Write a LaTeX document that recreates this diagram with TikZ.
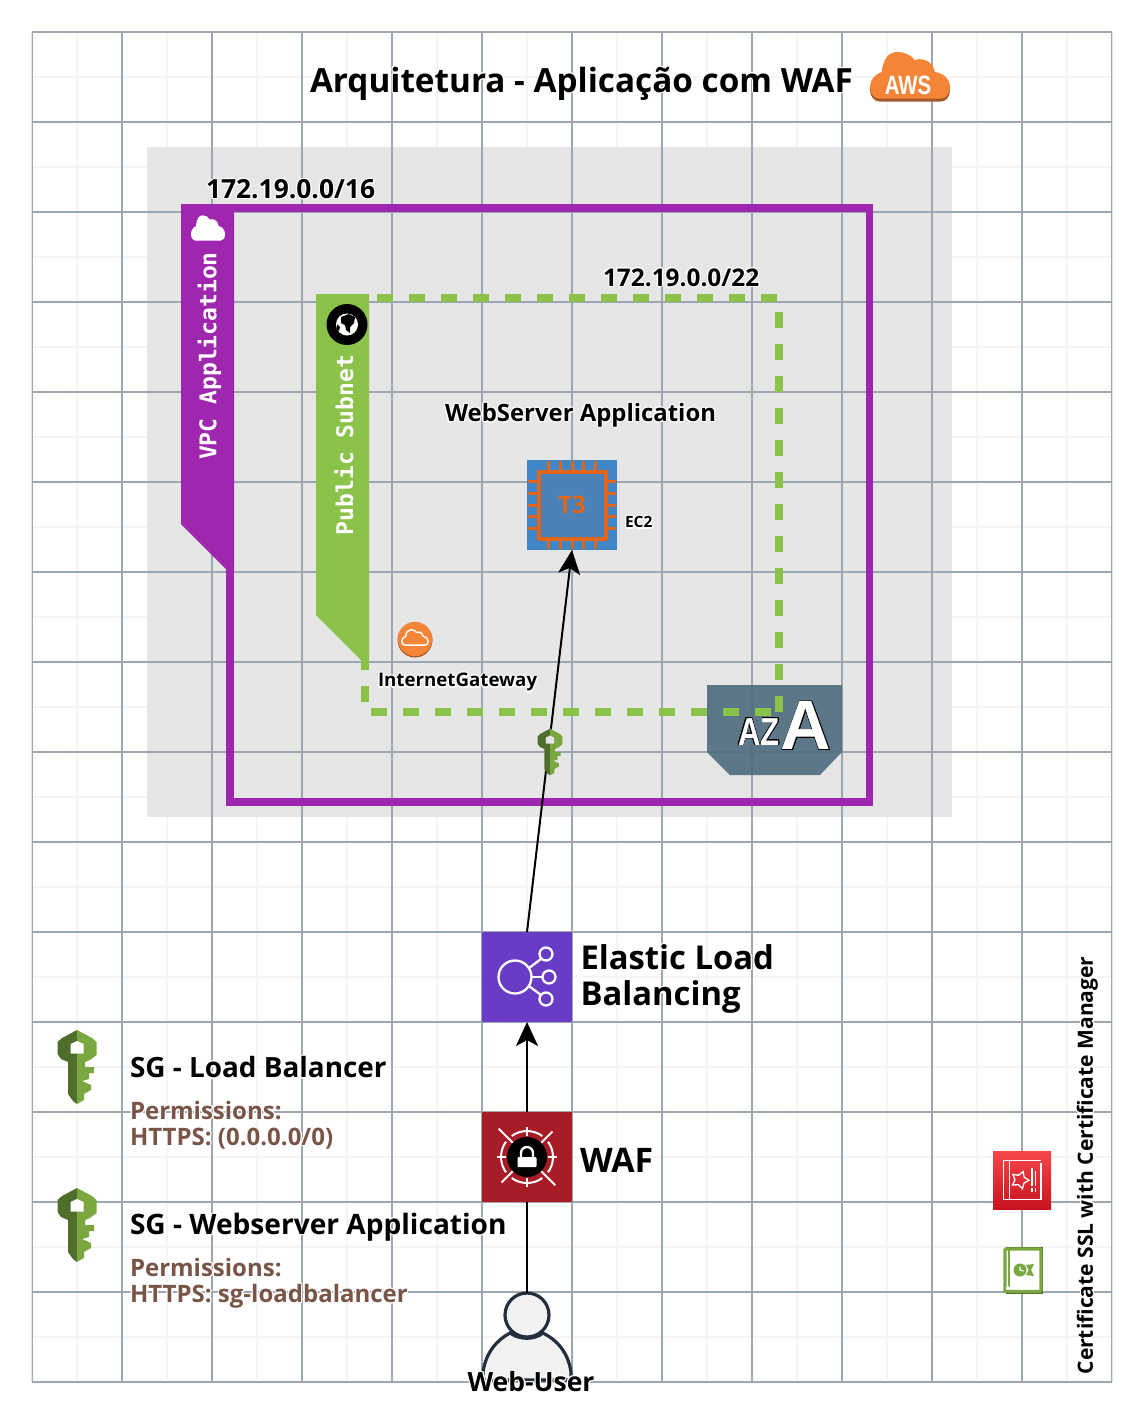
\documentclass[tikz,border=0pt]{standalone}
\usepackage{fontspec}
\setmainfont{Open Sans}
\setmonofont{DejaVu Sans Mono}
\newfontfamily\awsfont{Liberation Sans}
\usepackage[copies]{contour}
\contourlength{1.1pt}
\usetikzlibrary{arrows.meta,shapes.geometric}

\definecolor{gridmajor}{HTML}{9EA6B1}
\definecolor{gridminor}{HTML}{F5F5F6}
\definecolor{panelgray}{HTML}{E6E6E6}
\definecolor{vpcpurple}{HTML}{9F26AE}
\definecolor{subnetgreen}{HTML}{8BC34A}
\definecolor{azblue}{HTML}{4E6D7E}
\definecolor{ec2blue}{HTML}{3F86C6}
\definecolor{ec2inner}{HTML}{4A82B8}
\definecolor{ec2orange}{HTML}{E0661B}
\definecolor{elbpurple}{HTML}{693CC5}
\definecolor{wafred}{HTML}{A81C27}
\definecolor{awsorange}{HTML}{F58536}
\definecolor{awsshadow}{HTML}{A35A2B}
\definecolor{keydark}{HTML}{4F6E2C}
\definecolor{keylight}{HTML}{7AA73F}
\definecolor{permbrown}{HTML}{795548}
\definecolor{userdark}{HTML}{232F3E}
\definecolor{acmtop}{HTML}{F54749}
\definecolor{acmbottom}{HTML}{C7131F}

\newcommand{\halo}[1]{\contour{white}{#1}}

\tikzset{
    x=1pt, y=-1pt,
    sized/.style={font=\fontsize{#1}{#1}\selectfont\bfseries},
    label/.style={inner sep=0pt, outer sep=0pt},
    iconbox/.style={minimum size=90pt, inner sep=0pt, outer sep=0pt},
    ribbontext/.style={rotate=90, text=white, inner sep=0pt,
        font=\fontsize{23}{23}\selectfont\ttfamily\bfseries},
    subnetdash/.style={draw=subnetgreen, line width=8pt, dash pattern=on 16pt off 16pt},
    conn/.style={draw=black, line width=2pt},
    connarrow/.style={conn, -{Stealth[length=24pt,width=22pt,inset=6pt]}},
    pics/cloudicon/.style={code={
        \path[pic actions] (-30,23.2) .. controls (-36,23.2) and (-40,17.5) .. (-40,11.5)
            .. controls (-40,4.5) and (-35,-1.5) .. (-28.3,-3.5)
            .. controls (-27,-15.5) and (-22,-23.5) .. (-13,-23.5)
            .. controls (-5,-23.5) and (1,-20.5) .. (5,-15.2)
            .. controls (8,-17.5) and (22,-17.5) .. (25,-3.5)
            .. controls (33,-2.5) and (40,3.5) .. (40,11.5)
            .. controls (40,18.5) and (36,23.2) .. (30,23.2) -- cycle;
    }},
    pics/sgkey/.style={code={
        \fill[keydark] (-19.5,-22) -- (-19.5,-25) -- (-15,-29) -- (0,-37) -- (0,37) -- (-4,34) -- (-9,27)
            -- (-9,-5) -- (-16,-8) -- (-19.5,-13) -- cycle;
        \fill[keylight] (0,-37) -- (15,-29) -- (19.5,-25) -- (19.5,-12) -- (13,-7) -- (8,-5)
            -- (8,0) -- (17,0) -- (17,6) -- (12,6) -- (12,12) -- (5,14) -- (14,18)
            -- (14,23) -- (7,27) -- (7,33) -- (0,37) -- cycle;
        \fill[#1] (-6.5,-23) -- (0,-26) -- (6.5,-23) -- (6.5,-13.5) -- (-6.5,-13.5) -- cycle;
    }}
}

\begin{document}
\begin{tikzpicture}

    \useasboundingbox (0,0) rectangle (1144,1414);
    \fill[white] (0,0) rectangle (1144,1414);

    %minor grid:
    \foreach \k in {0,...,11} {
        \draw[gridminor, line width=1.8pt] ({77+90*\k},32) -- ({77+90*\k},1382);
    }
    \foreach \k in {0,...,14} {
        \draw[gridminor, line width=1.8pt] (32,{77+90*\k}) -- (1112,{77+90*\k});
    }

    %panel behind the vpc:
    \fill[panelgray] (147,147) rectangle (952,817);

    %major grid:
    \begin{scope}
        \clip (31.6,31.6) rectangle (1112.4,1382.4);
        \foreach \k in {0,...,12} {
            \draw[gridmajor, line width=1.7pt] ({32+90*\k},32) -- ({32+90*\k},1382);
        }
        \foreach \k in {0,...,15} {
            \draw[gridmajor, line width=1.7pt] (32,{32+90*\k}) -- (1112,{32+90*\k});
        }
    \end{scope}

    %availability zone:
    \fill[azblue, opacity=.9] (707,685) -- (842,685) -- (842,752) -- (820,775) -- (730,775) -- (707,752) -- cycle;
    \node (azsmall) [label, font=\fontsize{39}{39}\selectfont\awsfont\bfseries, text=white] at (759,732)
        {\contourlength{.6pt}\contour{black}{\scalebox{.8}[1]{AZ}}};
    \node (azbig) [label, font=\fontsize{70}{70}\selectfont\awsfont\bfseries, text=white] at (806,726)
        {\contourlength{.6pt}\contour{black}{A}};

    %subnet frame, two runs because the dashes restart at the corner:
    \draw[subnetdash, dash phase=20pt] (365,298) -- (779,298) -- (779,712);
    \draw[subnetdash, dash phase=24pt] (779,712) -- (365,712) -- (365,298);
    \fill[subnetgreen] (316,294) -- (369,294) -- (369,669) -- (361,669) -- (361,660) -- (316,615) -- cycle;
    \node (subnetname) [ribbontext] at (344,445) {Public Subnet};

    %globe:
    \node (globe) [circle, fill=black, minimum size=41pt, inner sep=0pt] at (347,324.5) {};
    \fill[white] (globe.center) circle (11);
    \fill[black] (341,317) -- (349,314) -- (355,317) -- (354,323) -- (350,327) -- (350,333) -- (346,330) -- (345,325) -- (341,323) -- cycle;
    \fill[black] (337,324) -- (340,327) -- (339,331) -- (337,329) -- cycle;

    %vpc frame:
    \draw[vpcpurple, line width=7.5pt] (230,208) rectangle (869.5,802);
    \fill[vpcpurple] (181,204.2) -- (234,204.2) -- (234,572) -- (229,572) -- (181,524) -- cycle;
    \node (vpcname) [ribbontext] at (209.5,356) {VPC Application};
    \pic[fill=white, xscale=.425, yscale=.54] (vpccloud) at (208,228) {cloudicon};

    %ec2:
    \node (ec2) [iconbox, fill=ec2blue] at (572,505) {};
    \foreach \k in {-2,...,2} {
        \draw[ec2orange, line width=3pt] ({572+11.6*\k},461) -- ({572+11.6*\k},549);
        \draw[ec2orange, line width=3pt] (528,{505+11.6*\k}) -- (616,{505+11.6*\k});
    }
    \node (ec2chip) [draw=ec2orange, line width=4pt, fill=ec2inner, minimum size=67pt, inner sep=0pt, text=ec2orange, sized=24] at (ec2.center) {T3};

    %elb:
    \node (elb) [iconbox, fill=elbpurple] at (527,977) {};
    \begin{scope}[shift={(elb.center)}, white, line width=2.3pt]
        \draw (-12,0) circle (16.5);
        \draw (19,-23) circle (6.5);
        \draw (22,0) circle (6.5);
        \draw (19,22) circle (6.5);
        \draw (2,-9) -- (14,-18);
        \draw (4,0) -- (15.5,0);
        \draw (2,9) -- (14,18);
    \end{scope}

    %waf:
    \node (waf) [iconbox, fill=wafred] at (527,1157) {};
    \begin{scope}[shift={(waf.center)}, white, line width=2pt]
        \foreach \k in {0,90,180,270} {
            \draw ({\k-36}:26) arc ({\k-36}:{\k+36}:26);
            \draw (\k:21) -- (\k:30);
        }
        \draw (45:20) -- (45:40);
        \draw (225:20) -- (225:40);
        \draw (135:20) -- (135:36);
        \draw (315:20) -- (315:36);
        \fill[black] (0,0) circle (20);
        \fill[white, rounded corners=1pt] (-9.5,0) rectangle (9.5,10);
        \draw[line width=2.4pt] (-6,0) -- (-6,-4) arc (180:360:6) -- (6,0);
    \end{scope}

    %user:
    \fill[black!5] (483,1380) -- (483,1372) .. controls (486,1352) and (497,1340) .. (510,1333)
        -- (543,1333) .. controls (557,1340) and (568,1352) .. (571,1372) -- (571,1380) -- cycle;
    \draw[userdark, line width=3.2pt] (483,1380) -- (483,1372) .. controls (486,1352) and (497,1340) .. (510,1333)
        .. controls (520,1340) and (534,1340) .. (543,1333) .. controls (557,1340) and (568,1352) .. (571,1372) -- (571,1380) -- cycle;
    \node (user) [circle, draw=userdark, line width=3.2pt, fill=black!5, minimum size=44pt, inner sep=0pt, outer sep=0pt] at (527,1315) {};

    %connectors:
    \draw[conn] (user.north) -- (waf.south);
    \draw[connarrow] (waf.north) -- (elb.south);
    \draw[connarrow] (elb.north) -- (ec2.south);

    %keys:
    \pic[scale=.63] (sgkeyec2) at (550,752) {sgkey=panelgray};
    \pic (sgkeylb) at (77,1067) {sgkey=white};
    \pic (sgkeyweb) at (77,1225) {sgkey=white};

    %internet gateway:
    \node (igw) [circle, fill=awsshadow, minimum size=35pt, inner sep=0pt] at (415,640) {};
    \fill[awsorange] (415,639) circle (17.2);
    \pic[draw=white, line width=1.4pt, scale=.33] (igwcloud) at (415,637.5) {cloudicon};

    %aws logo:
    \pic[fill=awsshadow] (awsback) at (910,78.5) {cloudicon};
    \pic[fill=awsorange] (awsfront) at (910,75.5) {cloudicon};
    \node (awsname) [label, text=white, font=\fontsize{26.5}{26.5}\selectfont\awsfont\bfseries] at (908,85) {\scalebox{.77}[1]{AWS}};

    %security key and certificate icons:
    \node (acm) [minimum size=58pt, inner sep=0pt, top color=acmtop, bottom color=acmbottom, draw=none] at (1022,1180) {};
    \draw[white, line width=1.3pt] (1041,1163) -- (1041,1199.3) -- (1003.3,1199.3) -- (1003.3,1160.7) -- (1041,1160.7);
    \draw[white, line width=1.3pt] (1009.5,1160.7) -- (1009.5,1199.3);
    \node (acmstar) [star, star points=5, star point ratio=1.8, draw=white, line width=1.3pt, minimum size=18pt, inner sep=0pt, rotate=-20] at (1020,1180) {};
    \draw[white, line width=1.3pt] (1032,1168) -- (1032,1186) (1032,1188) -- (1032,1192);
    \draw[white, line width=1.3pt] (1035.5,1171) -- (1035.5,1186) (1035.5,1188) -- (1035.5,1192);

    \fill[keydark] (1006,1247.3) rectangle (1043,1293.5);
    \draw[keylight, line width=3.4pt, fill=white, rounded corners=1pt] (1005,1249) rectangle (1041,1291.5);
    \draw[keylight, line width=2pt] (1009,1249) -- (1009,1291.5);
    \fill[white] (1008,1288) circle (2);
    \fill[keylight] (1020,1270) circle (6.5);
    \draw[white, line width=1.2pt] (1020,1266.5) -- (1020,1270) -- (1023.5,1271);
    \fill[keylight] (1026,1265) -- (1034,1264) -- (1031,1270) -- (1034,1276) -- (1026,1275) -- (1028.5,1270) -- cycle;

    %texts:
    \node (title) [label, anchor=west, sized=33.3] at (310,84) {\halo{Arquitetura - Aplicação com WAF}};
    \node (vpccidr) [label, anchor=west, sized=26.4] at (206,190) {\halo{172.19.0.0/16}};
    \node (subnetcidr) [label, anchor=west, sized=24.4] at (603,278) {\halo{172.19.0.0/22}};
    \node (webapp) [label, anchor=west, sized=23.9] at (445,416) {\halo{WebServer Application}};
    \node (ec2name) [label, anchor=west, sized=15.5] at (625,523) {\halo{EC2}};
    \node (igwname) [label, anchor=west, sized=18.7] at (378,683) {\halo{InternetGateway}};
    \node (elbname) [label, anchor=west, sized=32.8] at (580.5,958) {\halo{Elastic Load}};
    \node (elbname2) [label, anchor=west, sized=32.8] at (580.5,998) {\halo{Balancing}};
    \node (wafname) [label, anchor=west, sized=33.8] at (580,1161) {\halo{WAF}};
    \node (sglb) [label, anchor=west, sized=27.9] at (130,1068) {\halo{SG - Load Balancer}};
    \node (sglbperm) [label, anchor=west, sized=24, text=permbrown] at (130,1111) {\halo{Permissions:}};
    \node (sglbhttps) [label, anchor=west, sized=24, text=permbrown] at (130,1139) {\halo{HTTPS: (0.0.0.0/0)}};
    \node (sgweb) [label, anchor=west, sized=28.1] at (130,1228) {\halo{SG - Webserver Application}};
    \node (sgwebperm) [label, anchor=west, sized=24, text=permbrown] at (130,1268) {\halo{Permissions:}};
    \node (sgwebhttps) [label, anchor=west, sized=24, text=permbrown] at (130,1297) {\halo{HTTPS: sg-loadbalancer}};
    \node (username) [label, sized=26.5] at (531,1382) {\halo{Web-User}};
    \node (certname) [label, rotate=90, sized=21] at (1088,1165.5) {\halo{Certificate SSL with Certificate Manager}};

\end{tikzpicture}
\end{document}
